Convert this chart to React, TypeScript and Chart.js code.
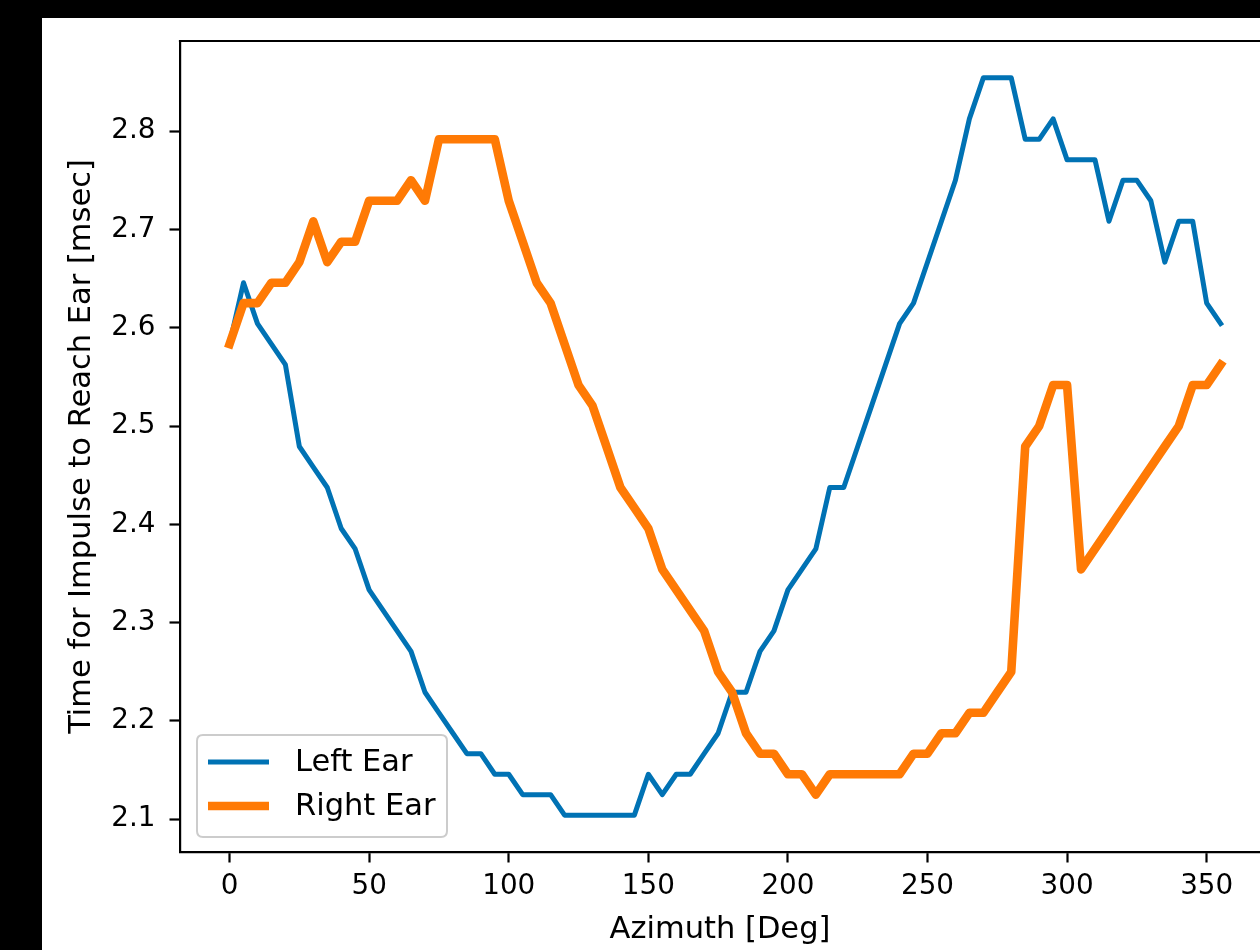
import React, { useEffect, useRef } from "react";
import { Chart, registerables } from "chart.js";

Chart.register(...registerables);

// ---- data ----
const azimuthDeg = [
  0, 5, 10, 15, 20, 25, 30, 35, 40, 45, 50, 55, 60, 65, 70, 75, 80, 85, 90, 95,
  100, 105, 110, 115, 120, 125, 130, 135, 140, 145, 150, 155, 160, 165, 170, 175,
  180, 185, 190, 195, 200, 205, 210, 215, 220, 225, 230, 235, 240, 245, 250, 255,
  260, 265, 270, 275, 280, 285, 290, 295, 300, 305, 310, 315, 320, 325, 330, 335,
  340, 345, 350, 355,
];

const leftEarMs = [
  2.5833, 2.6458, 2.6042, 2.5833, 2.5625, 2.4792, 2.4583, 2.4375, 2.3958, 2.375,
  2.3333, 2.3125, 2.2917, 2.2708, 2.2292, 2.2083, 2.1875, 2.1667, 2.1667, 2.1458,
  2.1458, 2.125, 2.125, 2.125, 2.1042, 2.1042, 2.1042, 2.1042, 2.1042, 2.1042,
  2.1458, 2.125, 2.1458, 2.1458, 2.1667, 2.1875, 2.2292, 2.2292, 2.2708, 2.2917,
  2.3333, 2.3542, 2.375, 2.4375, 2.4375, 2.4792, 2.5208, 2.5625, 2.6042, 2.625,
  2.6667, 2.7083, 2.75, 2.8125, 2.8542, 2.8542, 2.8542, 2.7917, 2.7917, 2.8125,
  2.7708, 2.7708, 2.7708, 2.7083, 2.75, 2.75, 2.7292, 2.6667, 2.7083, 2.7083,
  2.625, 2.6042,
];

const rightEarMs = [
  2.5833, 2.625, 2.625, 2.6458, 2.6458, 2.6667, 2.7083, 2.6667, 2.6875, 2.6875,
  2.7292, 2.7292, 2.7292, 2.75, 2.7292, 2.7917, 2.7917, 2.7917, 2.7917, 2.7917,
  2.7292, 2.6875, 2.6458, 2.625, 2.5833, 2.5417, 2.5208, 2.4792, 2.4375, 2.4167,
  2.3958, 2.3542, 2.3333, 2.3125, 2.2917, 2.25, 2.2292, 2.1875, 2.1667, 2.1667,
  2.1458, 2.1458, 2.125, 2.1458, 2.1458, 2.1458, 2.1458, 2.1458, 2.1458, 2.1667,
  2.1667, 2.1875, 2.1875, 2.2083, 2.2083, 2.2292, 2.25, 2.4792, 2.5, 2.5417,
  2.5417, 2.3542, 2.375, 2.3958, 2.4167, 2.4375, 2.4583, 2.4792, 2.5, 2.5417,
  2.5417, 2.5625,
];

const xTickValues = [0, 50, 100, 150, 200, 250, 300, 350];
const yTickValues = [2.1, 2.2, 2.3, 2.4, 2.5, 2.6, 2.7, 2.8];

const seriesNames = ["Left Ear", "Right Ear"];
const xAxisTitle = "Azimuth [Deg]";
const yAxisTitle = "Time for Impulse to Reach Ear [msec]";

// ---- style ----
const BLUE = "#0072B4";
const ORANGE = "#FF7A05";
const FONT = "DejaVu Sans";
const TICK_FS = 27.8;
const LABEL_FS = 30.5;
const SPINE = 2.2;
const BLUE_W = 5;
const ORANGE_W = 8.6;

const framePlugin = {
  id: "frameAndLegend",
  afterDraw(chart: any) {
    const { ctx, chartArea: a } = chart;
    ctx.save();
    // top spine
    ctx.strokeStyle = "#000";
    ctx.lineWidth = SPINE;
    ctx.beginPath();
    ctx.moveTo(a.left - SPINE / 2, a.top);
    ctx.lineTo(a.right, a.top);
    ctx.stroke();

    // legend box (lower left)
    const bw = 250;
    const bh = 102;
    const bx = a.left + 17;
    const by = a.bottom - 15 - bh;
    const r = 6;
    ctx.beginPath();
    ctx.moveTo(bx + r, by);
    ctx.lineTo(bx + bw - r, by);
    ctx.quadraticCurveTo(bx + bw, by, bx + bw, by + r);
    ctx.lineTo(bx + bw, by + bh - r);
    ctx.quadraticCurveTo(bx + bw, by + bh, bx + bw - r, by + bh);
    ctx.lineTo(bx + r, by + bh);
    ctx.quadraticCurveTo(bx, by + bh, bx, by + bh - r);
    ctx.lineTo(bx, by + r);
    ctx.quadraticCurveTo(bx, by, bx + r, by);
    ctx.closePath();
    ctx.fillStyle = "rgba(255,255,255,0.8)";
    ctx.fill();
    ctx.strokeStyle = "#cccccc";
    ctx.lineWidth = 2;
    ctx.stroke();

    const entries = [
      { label: seriesNames[0], color: BLUE, width: BLUE_W, dy: 27 },
      { label: seriesNames[1], color: ORANGE, width: ORANGE_W, dy: 71 },
    ];
    ctx.font = `${LABEL_FS}px "${FONT}"`;
    ctx.textBaseline = "middle";
    ctx.textAlign = "left";
    for (const e of entries) {
      const y = by + e.dy;
      ctx.strokeStyle = e.color;
      ctx.lineWidth = e.width;
      ctx.lineCap = "butt";
      ctx.beginPath();
      ctx.moveTo(bx + 11, y);
      ctx.lineTo(bx + 72, y);
      ctx.stroke();
      ctx.fillStyle = "#000";
      ctx.fillText(e.label, bx + 98, y + 1);
    }
    ctx.restore();
  },
};

function ImpulseChart() {
  const ref = useRef<HTMLCanvasElement | null>(null);

  useEffect(() => {
    if (!ref.current) return;
    Chart.defaults.font.family = FONT;
    Chart.defaults.font.size = TICK_FS;
    Chart.defaults.color = "#000";

    const chart = new Chart(ref.current, {
      type: "line",
      data: {
        datasets: [
          {
            label: seriesNames[0],
            data: azimuthDeg.map((a, i) => ({ x: a, y: leftEarMs[i] })),
            borderColor: BLUE,
            backgroundColor: BLUE,
            borderWidth: BLUE_W,
            pointRadius: 0,
            tension: 0,
            fill: false,
            borderCapStyle: "square",
            borderJoinStyle: "round",
            order: 1,
          },
          {
            label: seriesNames[1],
            data: azimuthDeg.map((a, i) => ({ x: a, y: rightEarMs[i] })),
            borderColor: ORANGE,
            backgroundColor: ORANGE,
            borderWidth: ORANGE_W,
            pointRadius: 0,
            tension: 0,
            fill: false,
            borderCapStyle: "square",
            borderJoinStyle: "round",
            order: 0,
          },
        ],
      },
      options: {
        responsive: false,
        animation: false,
        devicePixelRatio: 1,
        layout: { padding: { top: 23, right: 0, bottom: 0, left: 0 } },
        plugins: {
          legend: { display: false },
          tooltip: { enabled: false },
        },
        scales: {
          x: {
            type: "linear",
            min: -17.75,
            max: 369.1,
            afterBuildTicks: (axis: any) => {
              axis.ticks = xTickValues.map((v) => ({ value: v }));
            },
            afterFit: (scale: any) => {
              scale.height = 98;
              scale.paddingLeft = 0;
              scale.paddingRight = 0;
            },
            ticks: {
              autoSkip: false,
              maxRotation: 0,
              padding: 8,
              color: "#000",
              font: { size: TICK_FS, family: FONT },
              callback: (v: any) => String(v),
            },
            grid: {
              display: true,
              drawOnChartArea: false,
              drawTicks: true,
              tickLength: 10.5,
              tickWidth: SPINE,
              tickColor: "#000",
            },
            border: { display: true, color: "#000", width: SPINE },
            title: {
              display: true,
              text: xAxisTitle,
              color: "#000",
              font: { size: LABEL_FS, family: FONT },
              padding: { top: 0, bottom: 2 },
            },
          },
          y: {
            type: "linear",
            min: 2.0667,
            max: 2.8917,
            afterBuildTicks: (axis: any) => {
              axis.ticks = yTickValues.map((v) => ({ value: v }));
            },
            afterFit: (scale: any) => {
              scale.width = 138;
              scale.paddingTop = 0;
              scale.paddingBottom = 0;
            },
            ticks: {
              padding: 14,
              color: "#000",
              font: { size: TICK_FS, family: FONT },
              callback: (v: any) => Number(v).toFixed(1),
            },
            grid: {
              display: true,
              drawOnChartArea: false,
              drawTicks: true,
              tickLength: 10.5,
              tickWidth: SPINE,
              tickColor: "#000",
            },
            border: { display: true, color: "#000", width: SPINE },
            title: {
              display: true,
              text: yAxisTitle,
              color: "#000",
              font: { size: LABEL_FS, family: FONT },
              padding: { top: 22, bottom: 0 },
            },
          },
        },
      },
      plugins: [framePlugin],
    } as any);

    return () => chart.destroy();
  }, []);

  return <canvas ref={ref} width={1218} height={932} style={{ display: "block" }} />;
}

export default function App() {
  return (
    <div
      style={{
        position: "fixed",
        left: 0,
        top: 0,
        width: 1260,
        height: 950,
        background: "#000",
        overflow: "hidden",
      }}
    >
      <div
        style={{
          position: "absolute",
          left: 42,
          top: 18,
          width: 1218,
          height: 932,
          background: "#fff",
        }}
      >
        <ImpulseChart />
      </div>
    </div>
  );
}
